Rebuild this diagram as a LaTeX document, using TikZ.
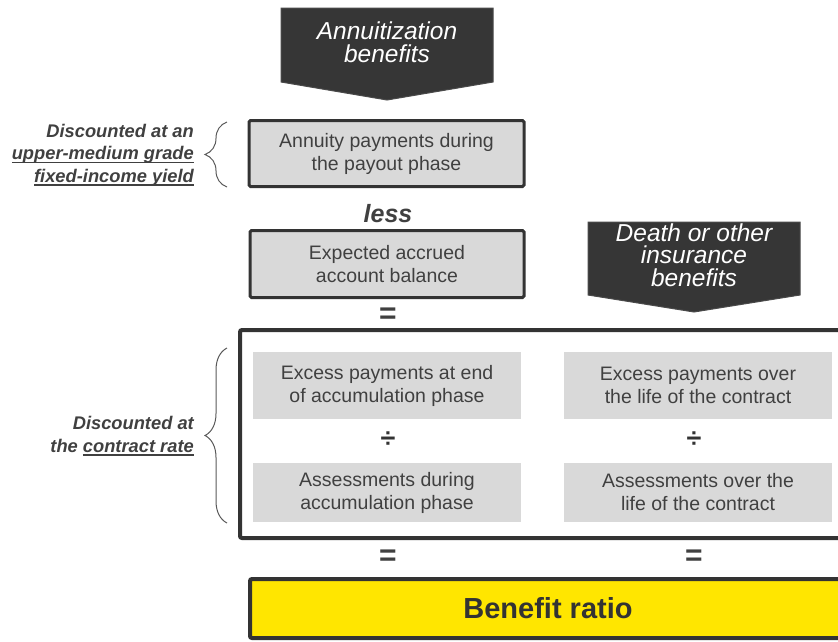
\documentclass[tikz,border=0pt]{standalone}
\usepackage{fontspec}
\setmainfont{Liberation Sans}
\usepackage{xcolor}
\usepackage{tikz}
\usetikzlibrary{decorations.pathreplacing,positioning}
\definecolor{ink}{HTML}{404040}
\definecolor{frame}{HTML}{333333}
\definecolor{boxfill}{HTML}{D9D9D9}
\definecolor{bannerfill}{HTML}{363636}
\definecolor{bannerline}{HTML}{4A4A4A}
\definecolor{bracecol}{HTML}{595959}
\definecolor{ratiofill}{HTML}{FFE600}
\newsavebox{\undlbox}
\newcommand{\undl}[1]{\sbox{\undlbox}{#1}\rlap{\rule[-3.5pt]{\wd\undlbox}{1.6pt}}\usebox{\undlbox}}
\tikzset{
  greybox/.style={draw=frame, line width=3pt, fill=boxfill, rounded corners=1.5pt, text=ink,
    align=center, inner sep=0pt, font=\fontsize{19.5}{23}\selectfont},
  softbox/.style={fill=boxfill, text=ink, align=center, inner sep=0pt,
    font=\fontsize{19.5}{23}\selectfont},
  banner/.style={fill=bannerfill, draw=bannerline, line width=1pt},
  bannertext/.style={text=white, align=center, font=\fontsize{24.5}{22.5}\selectfont\itshape},
  sign/.style={text=ink, inner sep=0pt, font=\fontsize{30}{30}\selectfont\bfseries},
  divsign/.style={text=frame, inner sep=0pt, font=\fontsize{27}{27}\selectfont\bfseries},
  sidenote/.style={anchor=east, align=right, text=ink, inner sep=0pt,
    font=\fontsize{18.3}{22.5}\selectfont\bfseries\itshape},
  bracket/.style={decorate, decoration={brace, amplitude=22pt}, draw=bracecol, line width=1pt}
}

\begin{document}
\begin{tikzpicture}[x=1pt, y=-1pt]
  \clip (0,0) rectangle (838,641);
  \useasboundingbox (0,0) rectangle (838,641);

  % banners
  \fill[banner] (281,8) -- (493,8) -- (493,82) -- (387,100) -- (281,82) -- cycle;
  \node[bannertext] (annben) at (387,42) {Annuitization\\benefits};
  \fill[banner] (588,222) -- (800,222) -- (800,295) -- (694,312) -- (588,295) -- cycle;
  \node[bannertext] (deathben) at (694,255) {Death or other\\insurance\\benefits};

  % annuitization side
  \node[greybox, minimum width=275, minimum height=66] (payout) at (386.5,153.5)
    {Annuity payments during\\the payout phase};
  \node[sign, font=\fontsize{25}{25}\selectfont\bfseries\itshape] (less) at (388,214) {less};
  \node[greybox, minimum width=274, minimum height=67] (balance) at (387,264)
    {Expected accrued\\account balance};
  \node[sign] (eqtop) at (388,316) {=};

  % ratio frame
  \draw[draw=frame, line width=4pt, rounded corners=2pt] (240,330) rectangle (846,538);
  \node[softbox, minimum width=268, minimum height=67] (excessacc) at (387,385.5)
    {Excess payments at end\\of accumulation phase};
  \node[divsign] (divacc) at (388,440) {÷};
  \node[softbox, minimum width=268, minimum height=59] (assessacc) at (387,492.5)
    {Assessments during\\accumulation phase};
  \node[softbox, minimum width=268, minimum height=67] (excesslife) at (698,385.5)
    {Excess payments over\\the life of the contract};
  \node[divsign] (divlife) at (694,440) {÷};
  \node[softbox, minimum width=268, minimum height=59] (assesslife) at (698,492.5)
    {Assessments over the\\life of the contract};

  \node[sign] (eqacc) at (388,558) {=};
  \node[sign] (eqlife) at (694,558) {=};

  % benefit ratio
  \node[draw=frame, line width=4pt, fill=ratiofill, rounded corners=2pt, inner sep=0pt,
    minimum width=596, minimum height=59, text=frame,
    font=\fontsize{29}{29}\selectfont\bfseries] (ratio) at (548,608.5) {Benefit ratio};

  % discount notes
  \draw[bracket] (227,187) -- (227,122);
  \node[sidenote] (rateyield) at (194,155)
    {Discounted at an\\\undl{upper-medium grade}\\\undl{fixed-income yield}};
  \draw[bracket] (227,523) -- (227,348);
  \node[sidenote] (ratecontract) at (194,436)
    {Discounted at\\the \undl{contract rate}};
\end{tikzpicture}
\end{document}
